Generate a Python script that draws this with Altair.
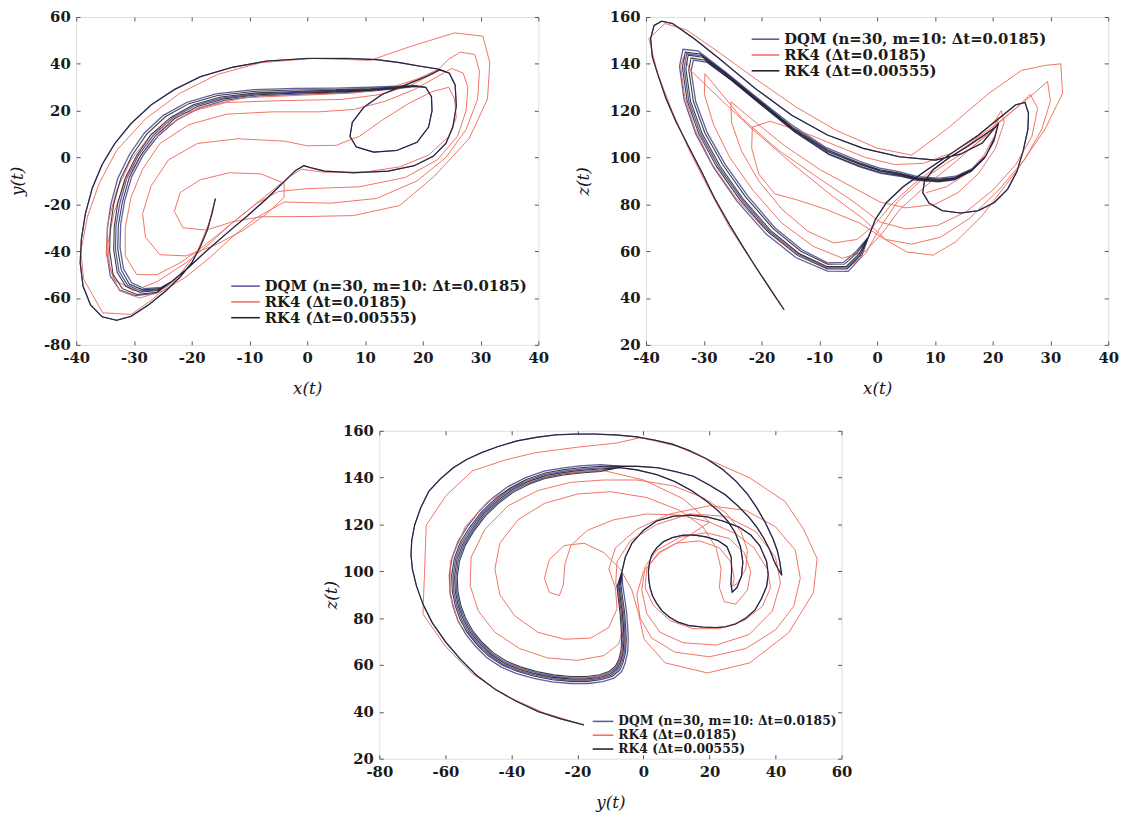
import altair as alt
import pandas as pd

SERIES = ["DQM (n=30, m=10: \u0394t=0.0185)", "RK4 (\u0394t=0.0185)", "RK4 (\u0394t=0.00555)"]
COLORS = ["#55559f", "#ef6b5c", "#1b1b26"]

# ---------------- Panel 1 : x(t) vs y(t) ----------------
P1_TRANS = [(-15.9,-17.6),(-16.5,-24),(-17.3,-31),(-18.5,-38),(-20,-45),(-22,-51),(-24.5,-57),(-27.5,-63),(-30.5,-67.8),(-33,-69.5),(-35.5,-68),(-37.5,-63),(-38.8,-55),(-39.3,-45),(-39.1,-35),(-38.4,-24),(-37.2,-13),(-35.5,-3),(-33.3,6),(-30.5,14.5),(-27,22.5),(-23,29),(-18.5,34.5),(-13,38.5),(-7,41.2),(0,42.3),(7,42.3),(12,41.8),(16,40.5),(19.5,39),(22.5,37.8)]
P1_OUT = [(24.6,36),(25.6,31),(25.8,22),(25.2,13),(24,6),(21.8,0.5),(18.5,-3.5),(14,-5.8),(8,-6.5),(3,-5.8),(0.5,-4.3),(-0.6,-3.5)]
P1_DIAG = [(-2,-5.5),(-4.3,-11),(-7,-17.5),(-10.4,-25),(-14,-32.5),(-17.5,-40),(-20.8,-47.5),(-23.5,-53)]
P1_ELL = [(20.5,30),(21.5,26),(21.6,20),(21,13),(19,6.5),(15.5,3),(11.5,2.3),(8.5,4.5),(7.4,9),(7.8,15),(9.8,21.5),(13,27),(17,31),(20.5,34.5),(23,37.5)]
P1_BAND_K0 = [(-26,-57.5),(-29.5,-58.5),(-32,-56),(-33.6,-50),(-34.2,-40),(-34.1,-30),(-33.5,-20),(-32.3,-9),(-30.3,1),(-27.8,10),(-24.5,17.5),(-20.5,23),(-15.5,26.5),(-9,28.3),(-2,28.8),(5,29),(11,29.5),(15.5,30.2),(18.5,30.6)]
P1_BAND_K1 = [(-25.5,-56),(-28.5,-56.5),(-30.8,-54),(-32.2,-48),(-32.8,-39),(-32.7,-29),(-32,-19),(-30.8,-8.5),(-28.8,1),(-26.2,9.5),(-23,16.5),(-19,21.8),(-14.5,25),(-8.5,26.8),(-2,27.5),(5,27.9),(11,28.6),(15.5,29.6),(18.5,30.4)]
P1_BAND_K2 = [(-25.8,-56.8),(-29,-57.5),(-31.4,-55),(-32.9,-49),(-33.5,-39.5),(-33.4,-29.5),(-32.8,-19.5),(-31.5,-8.7),(-29.5,1),(-27,9.8),(-23.7,17),(-19.7,22.5),(-15,25.8),(-8.8,27.6),(-2,28.2),(5,28.5),(11,29),(15.5,29.9),(18.5,30.5)]
P1_BAND_B0 = [(-26.2,-58),(-29.8,-59),(-32.5,-56.5),(-34.1,-50.5),(-34.7,-40.5),(-34.6,-30),(-34,-20),(-32.8,-9),(-30.8,1.2),(-28.2,10.5),(-24.9,18),(-20.8,23.6),(-15.8,27.2),(-9.2,29),(-2,29.5),(5,29.6),(11,30),(15.5,30.5),(18.5,30.8)]
P1_BAND_B1 = [(-25.6,-56.4),(-28.8,-57),(-31.1,-54.5),(-32.6,-48.5),(-33.2,-39.2),(-33.1,-29.2),(-32.4,-19.2),(-31.2,-8.6),(-29.2,1),(-26.6,9.6),(-23.4,16.8),(-19.4,22.2),(-14.8,25.4),(-8.6,27.2),(-2,27.8),(5,28.2),(11,28.8),(15.5,29.7),(18.5,30.4)]
P1_BAND_B2 = [(-25.3,-55.5),(-28.2,-56),(-30.4,-53.5),(-31.8,-47.5),(-32.4,-38.5),(-32.3,-28.5),(-31.6,-18.5),(-30.4,-8.3),(-28.4,1),(-25.8,9.2),(-22.6,16),(-18.6,21.2),(-14.2,24.5),(-8.3,26.3),(-2,27),(5,27.5),(11,28.3),(15.5,29.4),(18.5,30.3)]
P1_RED = [(-15.9,-17.6),(-17,-28),(-19,-40),(-22.5,-51.5),(-27,-61),(-30.5,-67),(-35.4,-66.3),(-38.7,-52),(-39.2,-40),(-38,-25),(-36,-11),(-33,3),(-28,16.5),(-22,27.5),(-15.5,35.5),(-8,40.5),(1,42.3),(10.9,41.5),
    (18,47.5),(25.5,53.2),(30.4,51.8),(31.6,40.5),(31.2,25),(28,8),(22,-8),(16,-20.5),(8,-24.8),(0,-25.2),(-8,-25.3),
    (-13,-27.5),(-17.5,-31),(-21.5,-30),(-23,-23),(-22,-15),(-18.5,-9.5),(-13.5,-6.5),(-8,-7),(-4,-11),(-4,-17),(-7,-24),(-11,-31),(-16,-37.5),(-21,-42),(-25.5,-41.5),(-28,-34),(-28.5,-24),(-27,-12),(-24,-1),(-19,6),(-12,8),(-4,7),(0,5),(5,5.2),(9,9),(13,16),(17.5,23),(21.5,28),
    (24.5,30),(25.5,25),(25.8,17),(24.5,9),(21,1),(16,-4),(10,-6.2),(3,-6.3),(-1,-5),
    (-3,-8),(-6,-14),(-10,-22),(-14,-30),(-18,-38),(-22,-45),(-26,-50),(-29.5,-50),(-31.5,-42),(-31.5,-30),(-30.5,-17),(-28.5,-5),(-25.5,6),(-20.5,14),(-14,18.5),(-6,19.5),(2,19.5),(8,20.5),(13.5,24),(18.5,29),(22.5,34.5),(25,38),(27,36),(27.8,30),(27.5,20),(26,9),(22.5,-1),(17,-8.5),(9,-12.5),(0,-13.3),(-5,-14.5),
    (-9,-20),(-13,-28),(-17,-37),(-21,-45),(-26,-53),(-30,-57),(-33.5,-52),(-34.8,-41),(-34.5,-28),(-33,-14),(-30.5,-1),(-27,10),(-22,18.5),(-14,23.5),(-4,24.3),(6,24.8),(13,27),(18,31),(22,36),(24.5,42),(26.5,45),(29,44),(29.8,37),(29.5,25),(27.5,12),(24,0),(19,-10),(12,-17.5),(4,-19.5),(-4,-19),
    (-9,-26),(-13,-34),(-17,-43),(-21,-51),(-25,-57),(-29,-60),(-32.5,-57),(-34.2,-47),(-34.5,-37),(-33.5,-24),(-31.5,-10),(-28.5,2),(-24.5,13),(-19,21),(-11,25.5),(-2,26.5),(8,27.5),(14,29.5),(19,33.5),(23,38)]

# ---------------- Panel 2 : x(t) vs z(t) ----------------
P2_TRANS = [(-16.1,35),(-18,42),(-20.5,51.3),(-23,61),(-25.5,71.2),(-28,82),(-30.4,94),(-32.7,105),(-34.8,115.3),(-36.5,125),(-37.9,135.1),(-38.9,143),(-39.2,150.8),(-38.6,156.4),(-37.3,158.2),(-35.4,157.2),(-31.7,150.8),(-27.3,142.2),(-21.1,129.5),(-14.8,118.1),(-8.6,109.6),(-2.4,103.9),(3.9,100.3),(10.1,98.9),(14.5,101.5),(18.2,106.2),(21,114.6)]
P2_RIGHT = [(-1.5,66),(-0.3,73.5),(1.6,80.7),(4.5,87.5),(8.5,94.5),(13,102),(17.5,109.5),(21.5,117.5),(24,122.5),(25.6,123.5),(26.2,119),(26.1,112),(25.3,103),(24.2,94),(22.6,86.5),(20.3,80.8),(17.5,77.3),(14.5,76.3),(11.3,77.3),(9,80.5),(7.9,85),(8.2,90),(9.8,95),(12.5,100),(15.5,104.5),(18.5,109.5),(20.5,113),(21,114.6)]
P2_BAND_K0 = [(20.3,108),(18.8,100.6),(16.5,95),(13.5,91.5),(10.8,90.7),(7,91.3),(3.8,93.4),(0.5,94.8),(-2.9,97.6),(-8.6,103.3),(-14.8,113.2),(-20.5,124.5),(-26.1,135.8),(-30.6,144.2),(-33.2,145),(-33.7,138.6),(-32.9,124.5),(-30.9,110.3),(-27.8,96.2),(-23.8,82.1),(-18.8,68),(-13.7,58.1),(-8.6,52.4),(-5.2,52.4),(-2.9,58.1)]
P2_BAND_K1 = [(20.2,107),(18.6,99.8),(16.3,94.2),(13.4,90.6),(10.7,89.8),(7,90.4),(3.9,92.3),(0.6,93.6),(-2.8,96.2),(-8.4,101.6),(-14.4,111.3),(-20,122.4),(-25.4,133.4),(-29.8,141.5),(-32.2,142.5),(-32.6,137.4),(-31.8,124),(-29.8,110.5),(-26.7,96.9),(-22.8,83.3),(-18,69.6),(-13.2,60),(-8.6,54.4),(-5.6,54.5),(-3.4,59.5)]
P2_BAND_K2 = [(20.25,107.5),(18.7,100.2),(16.4,94.6),(13.45,91),(10.75,90.2),(7,90.8),(3.85,92.8),(0.55,94.2),(-2.85,96.9),(-8.5,102.4),(-14.6,112.2),(-20.2,123.4),(-25.7,134.6),(-30.2,142.8),(-32.7,143.7),(-33.1,138),(-32.3,124.2),(-30.3,110.4),(-27.2,96.5),(-23.3,82.7),(-18.4,68.8),(-13.5,59),(-8.6,53.4),(-5.4,53.4),(-3.15,58.8)]
P2_BAND_B0 = [(20.35,108.5),(18.9,101),(16.6,95.4),(13.6,92),(10.85,91.2),(7,91.8),(3.75,94),(0.45,95.5),(-3,98.4),(-8.8,104.2),(-15,114.3),(-20.8,125.6),(-26.5,137),(-31,145.5),(-33.6,146.2),(-34.2,139),(-33.4,124.6),(-31.4,110.2),(-28.3,95.8),(-24.3,81.5),(-19.2,67.3),(-14,57.2),(-8.6,51.5),(-5,51.4),(-2.7,57.6)]
P2_BAND_B1 = [(20.28,107.7),(18.75,100.4),(16.45,94.8),(13.5,91.2),(10.78,90.4),(7,91),(3.82,93),(0.52,94.4),(-2.88,97.2),(-8.55,102.8),(-14.7,112.6),(-20.35,123.9),(-25.9,135.2),(-30.4,143.5),(-32.95,144.3),(-33.4,138.3),(-32.6,124.3),(-30.6,110.3),(-27.5,96.3),(-23.5,82.4),(-18.6,68.4),(-13.6,58.6),(-8.6,52.9),(-5.3,52.9),(-3,58.4)]
P2_BAND_B2 = [(20.15,106.8),(18.55,99.6),(16.25,94),(13.35,90.4),(10.65,89.6),(7,90.2),(3.95,92),(0.65,93.2),(-2.75,95.8),(-8.3,101.2),(-14.2,110.8),(-19.7,121.8),(-25,132.6),(-29.4,140.6),(-31.8,141.6),(-32.2,137),(-31.4,123.9),(-29.4,110.6),(-26.3,97.1),(-22.4,83.6),(-17.7,70),(-13,60.6),(-8.6,55),(-5.8,55.2),(-3.6,60)]
P2_RED = [(-16.1,35),(-19,46),(-22,57),(-25.5,70),(-29,86),(-32.5,103),(-35.5,120),(-38,136),(-39.5,150.8),(-36.7,157.2),(-33,154.5),(-28,146),(-21,133.5),(-14,121.5),(-7,111.5),(0,104),(6,101),
    (12,112),(19.3,127.3),(25,137.2),(29,139.3),(31.8,140),(32.1,127.3),(29,111.8),(23.9,93.5),(18.2,75.2),(13.6,64),(9.7,58.3),(5.1,59.7),(1.1,65.4),(-3,72),(-9,78),(-14,82),(-17.7,84.5),
    (-20.5,93),(-21.7,104),(-21.6,113),(-18.5,115.5),(-13,111),(-7,105),(-2,100),(3,97),(8,97.5),(13,102),(17.5,109),(20.5,116),(21.5,120),(22,115),(20.5,104),(17.5,93),(14,85),(10,80),(5,78.5),(0.5,81),
    (-4,87),(-10,95),(-16,105),(-21.5,116),(-25.3,123.8),(-25.2,115),(-23.5,103),(-20.5,90),(-16.5,78),(-12,68.5),(-7.5,63.5),(-3.5,65),(-0.5,71),(2.5,80),(6,88),(10.5,96.5),(15.5,105),(20.5,114),(24.5,122),(26.5,127),(27.8,121),(26.8,109),(24,97),(20,86),(15.5,77),(10.5,71),(5,69.5),(0.5,72.5),
    (-4,81),(-10,91),(-17,103),(-23.5,117),(-29.8,135.8),(-29.9,127),(-28.3,114),(-25.5,100),(-21.5,86),(-16.5,72),(-11,62),(-6,57),(-2,60),(1,68),(4,78),(8.5,88),(13.5,98),(19,110),(23.5,120),(27,127),(29.5,132.5),(30,124),(28.5,112),(25.5,99),(21,86),(16,74),(11,66),(6,63),(1.5,65),
    (-2.5,74),(-8,84),(-15,98),(-22,113),(-28,127),(-32.2,137),(-33.5,143),(-34,139),(-33.3,126),(-31.5,112),(-28.5,97),(-24.5,83),(-19.5,69.5),(-14,59.5),(-9,53.5),(-5,53),(-2,59),(0.5,70),(3.5,81),(7.5,90),(12,97.5),(16.5,104.5),(19.8,111),(21,117),(20.5,110),(18.5,101),(15.5,93),(12,87.5),(8.5,85)]

# ---------------- Panel 3 : y(t) vs z(t) ----------------
P3_TRANS = [(-18,34.4),(-25,37),(-31.9,40.1),(-38.5,44.5),(-44.7,49.4),(-50.5,55.5),(-55.4,62.4),(-60,70),(-64,78.1),(-66.8,86),(-68.8,94),(-70,101),(-70.4,106.9),(-70.2,113),(-69.3,119.8),(-67.5,127),(-65,134.2),(-61.5,139.5),(-57.6,144.2),(-53.5,147.8),(-49,150.7),(-44,153.3),(-38.3,155.7),(-32.5,157.2),(-26.5,158.3),(-20.5,158.6),(-14.8,158.6),(-8,158.2),(-2,157.4),(3.5,156),(8.7,154.3),(14,151.5),(19.4,147.8),(24,143.5),(28,138.5),(31.5,133),(34.4,127),(37,120.5),(39.2,114),(40.5,109),(41.3,104),(41.9,98.3),(40.8,101),(39.7,104),(38.3,109),(36.5,114),(34.5,118.5),(32.2,122.7),(28.7,127.8),(24.8,132.7),(20,136.8),(15.1,140.6),(10,142.5),(4.5,144.2),(-1.5,144.8),(-7.3,144.9)]
P3_RIGHT = [(-6.5,100),(-5.5,106),(-3.5,112),(0,117.5),(4,121.5),(9,123.5),(14,124),(19,123.3),(24,121.5),(28.9,118.9),(32.5,115.5),(35.2,111),(37.3,104.2),(37.8,98.6),(37.3,93.5),(35.8,88.5),(33.8,83.5),(31,80),(27.9,77.5),(24.8,76.3),(21.9,76),(18,76.2),(13.9,76.8),(10.5,78.3),(8,80.3),(5.7,83),(4,86.3),(2.7,89.7),(2,93),(1.6,96.5),(1.5,100),(1.8,103.5),(2.5,107),(4,110),(6,112.6),(8.8,114.4),(11.9,115.4),(15.4,115.5),(18.9,114.7),(22.5,113.2),(25.3,110.5),(26.6,106),(26.7,100),(26.5,94.5),(26.9,91.1),(28.3,93),(29.7,98),(30.1,104),(29.4,110.5),(27.8,116.5),(25.5,121.5),(22.5,126),(18.8,130.3),(14.5,134.5),(9.5,138.3),(4,141.3),(-2,143.3),(-7.3,144.3)]
P3_BAND_K0 = [(-13,144.8),(-19.1,144.2),(-24.5,143.3),(-29.8,142),(-35.3,139.3),(-40.4,135.6),(-45,130.8),(-49,125.5),(-52.5,119),(-55.4,112.6),(-57.3,105.5),(-58.1,98.3),(-57.9,91.5),(-57,85.3),(-55.5,79.3),(-53.3,73.8),(-50.3,68.5),(-46.9,63.8),(-42.8,60),(-38.3,57.3),(-33,55.2),(-27.6,53.7),(-22,53),(-16.9,53),(-12.6,53.8),(-9.4,55.2),(-7.2,57.8),(-6.2,60.9),(-5.4,65.5),(-5.2,71),(-5.4,76.5),(-5.7,82.5),(-6.3,88.5),(-6.8,94)]
P3_BAND_K1 = [(-13,142.6),(-19,142),(-24.3,141.1),(-29.4,139.8),(-34.7,137.2),(-39.6,133.6),(-44,128.9),(-47.8,123.8),(-51.2,117.5),(-53.9,111.3),(-55.7,104.5),(-56.4,97.7),(-56.2,91.3),(-55.3,85.4),(-53.8,79.8),(-51.7,74.6),(-48.8,69.6),(-45.5,65.3),(-41.6,61.7),(-37.3,59.2),(-32.3,57.2),(-27.2,55.8),(-22,55.1),(-17.2,55.1),(-13.3,55.8),(-10.5,57.2),(-8.5,59.5),(-7.5,62.2),(-6.8,66.3),(-6.6,71.2),(-6.8,76.5),(-7.1,82.3),(-7.6,88),(-8,93.5)]
P3_BAND_K2 = [(-13,143.7),(-19,143.1),(-24.4,142.2),(-29.6,140.9),(-35,138.2),(-40,134.6),(-44.5,129.8),(-48.4,124.6),(-51.8,118.2),(-54.6,112),(-56.5,105),(-57.2,98),(-57,91.4),(-56.1,85.3),(-54.6,79.5),(-52.5,74.2),(-49.5,69),(-46.2,64.5),(-42.2,60.8),(-37.8,58.2),(-32.6,56.2),(-27.4,54.7),(-22,54),(-17,54),(-13,54.8),(-10,56.2),(-7.9,58.6),(-6.9,61.5),(-6.1,65.9),(-5.9,71.1),(-6.1,76.5),(-6.4,82.4),(-7,88.2),(-7.4,93.7)]
P3_BAND_B0 = [(-13,145.6),(-19.2,145),(-24.7,144.1),(-30.1,142.8),(-35.7,140),(-40.9,136.3),(-45.6,131.4),(-49.6,126),(-53.2,119.4),(-56.1,112.9),(-58,105.7),(-58.8,98.4),(-58.6,91.5),(-57.7,85.1),(-56.2,79),(-53.9,73.3),(-50.9,68),(-47.4,63.1),(-43.2,59.2),(-38.6,56.4),(-33.2,54.3),(-27.7,52.8),(-22,52.1),(-16.8,52.1),(-12.3,52.9),(-8.9,54.4),(-6.6,57.2),(-5.6,60.5),(-4.8,65.3),(-4.6,71),(-4.8,76.5),(-5.1,82.5),(-5.7,88.6),(-6.3,94.2)]
P3_BAND_B1 = [(-13,144.2),(-19.05,143.6),(-24.45,142.7),(-29.7,141.4),(-35.15,138.7),(-40.2,135.1),(-44.75,130.3),(-48.7,125),(-52.15,118.6),(-55,112.3),(-56.9,105.2),(-57.65,98.1),(-57.45,91.4),(-56.55,85.3),(-55.05,79.4),(-52.9,74),(-49.9,68.7),(-46.55,64.1),(-42.5,60.4),(-38.05,57.7),(-32.8,55.7),(-27.5,54.2),(-22,53.5),(-16.95,53.5),(-12.8,54.3),(-9.7,55.7),(-7.55,58.2),(-6.55,61.2),(-5.75,65.7),(-5.55,71),(-5.75,76.5),(-6.05,82.4),(-6.65,88.3),(-7.1,93.8)]
P3_BAND_B2 = [(-13,143.1),(-19,142.5),(-24.35,141.6),(-29.5,140.3),(-34.85,137.7),(-39.8,134.1),(-44.25,129.3),(-48.1,124.2),(-51.5,117.8),(-54.25,111.6),(-56.1,104.7),(-56.8,97.8),(-56.6,91.3),(-55.7,85.3),(-54.2,79.6),(-52.1,74.4),(-49.15,69.3),(-45.85,64.9),(-41.9,61.2),(-37.55,58.7),(-32.45,56.7),(-27.3,55.2),(-22,54.5),(-17.1,54.5),(-13.15,55.3),(-10.25,56.7),(-8.2,59),(-7.2,61.8),(-6.45,66.1),(-6.25,71.1),(-6.45,76.5),(-6.75,82.3),(-7.3,88.1),(-7.7,93.6)]
P3_RED = [(-18,34.4),(-30,39.5),(-42,47),(-52,56.5),(-60,68),(-66.8,81.8),(-66.3,100),(-65.8,119.7),(-59.8,132.3),(-51.8,142.9),(-42,147.5),(-32.9,150.6),(-20,153),(-8,154.8),(-0.9,157.1),
    (10,153.5),(20,147.5),(32.2,139.9),(42.9,129.8),(48.5,118),(52.6,105.4),(51.5,91),(44,73.8),(32.2,60.9),(19.4,56.6),(6.6,60.9),(0.2,71),
    (-1.5,82),(-3.5,92),(-7,101),(-12,108),(-18,112),(-24,111),(-28.5,105),(-30,97),(-28.5,91),(-25.5,89.6),(-24.3,94),(-23.8,103),(-22,111),(-17,117.5),(-9,122),(1,124.5),(11,124),(20,121),(28,116),(33.5,110),(37.5,101),(38.5,93),(36,85),(30.5,79),(23,75.5),(15,75.5),(8,79),(3,85.5),(0.5,93),(1,101),(4.5,108),(10,112),(17,113),(23,110),(26.5,104),(27.5,97),(27,93.5),(28.5,95),(31,101),(31.5,109),(29.5,117),(25,125),(18,131.5),(9,136.5),(-2,139),(-12,139),
    (-22,138),(-32,134.5),(-41,128),(-48,118),(-52.2,106),(-52.5,94),(-50,83),(-45,74),(-37.5,67),(-29,63),(-20,62),(-12,64),(-7.5,69),(-6,77),(-6.5,86),(-8.4,95),(-8,104),(-4,113),(4,120),(14,124.5),(25,123.5),(34,117),(40,106),(41.5,95),(39,83),(32,73),(22,68.5),(12,69.5),(5,74),(1,82),(-0.5,92),(0.5,102),(4,109),(11,114.5),(19,116.5),(26,114),(30.5,108),(32.5,100),(31.5,92),(28,86),(24.5,87),(23,93),(23.5,101),(22,110),(18,119),(11,126),(1,131.5),(-10,134),(-20,133),(-30,129),
    (-38,122),(-43.5,112),(-45,101),(-43.5,90),(-39,81),(-32,74),(-24,71),(-16,71.5),(-10.5,76),(-8,84),(-8.5,93),(-10.5,101),(-8.5,110),(-2,118),(8,124.5),(20,128),(31,126),(40,119),(46,109),(47.5,97),(45.5,85),(40,75),(31,67),(20,63.5),(9.5,65.5),(2.5,71.5),(-1,80),(-2,90),(0,100),(5,108),(13,114.5),
    (20,121),(12,131),(0,139),(-12,143),(-25,142),(-37,138),(-47,130),(-54,119),(-58.5,104),(-58.6,90),(-56,78),(-50,68),(-41,60),(-30,55),(-19,53.5),(-11,56),(-7,62),(-5.5,72)]

# tick values
X12_TICKS = [-40, -30, -20, -10, 0, 10, 20, 30, 40]
Y1_TICKS = [-80, -60, -40, -20, 0, 20, 40, 60]
Z_TICKS = [20, 40, 60, 80, 100, 120, 140, 160]
Y3_TICKS = [-80, -60, -40, -20, 0, 20, 40, 60]


def chain(*segs):
    out = []
    for s in segs:
        out.extend(s)
    return out


def frame(blue, red, black):
    rows = []
    for name, pts in ((SERIES[0], blue), (SERIES[1], red), (SERIES[2], black)):
        for k, (a, b) in enumerate(pts):
            rows.append({"a": a, "b": b, "i": k, "s": name})
    return pd.DataFrame(rows)


df1 = frame(
    chain(P1_TRANS, P1_OUT, P1_DIAG, P1_BAND_B0, P1_ELL, P1_OUT, P1_DIAG, P1_BAND_B1, P1_ELL, P1_OUT, P1_DIAG, P1_BAND_B2, P1_ELL, P1_OUT),
    P1_RED,
    chain(P1_TRANS, P1_OUT, P1_DIAG, P1_BAND_K0, P1_ELL, P1_OUT, P1_DIAG, P1_BAND_K1, P1_ELL, P1_OUT, P1_DIAG, P1_BAND_K2, P1_ELL, P1_OUT),
)
df2 = frame(
    chain(P2_TRANS, P2_BAND_B0, P2_RIGHT, P2_BAND_B1, P2_RIGHT, P2_BAND_B2, P2_RIGHT),
    P2_RED,
    chain(P2_TRANS, P2_BAND_K0, P2_RIGHT, P2_BAND_K1, P2_RIGHT, P2_BAND_K2, P2_RIGHT),
)
df3 = frame(
    chain(P3_TRANS, P3_BAND_B0, P3_RIGHT, P3_BAND_B1, P3_RIGHT, P3_BAND_B2, P3_RIGHT),
    P3_RED,
    chain(P3_TRANS, P3_BAND_K0, P3_RIGHT, P3_BAND_K1, P3_RIGHT, P3_BAND_K2, P3_RIGHT),
)

FONT = "DejaVu Serif"
W, H = 468, 332


def main_axis(values, title, orient, tp):
    return alt.Axis(values=values, title=title, orient=orient, grid=False, domain=False,
                    ticks=True, tickSize=4, offset=-4, tickColor="#555", tickWidth=1,
                    labelFont=FONT, labelFontWeight="bold", labelFontSize=15, labelColor="#1a1a1a",
                    labelPadding=6, labelFlush=False, labelOverlap=False,
                    labelExpr="toString(datum.value)",
                    titleFont=FONT, titleFontStyle="italic", titleFontWeight="normal",
                    titleFontSize=17, titleColor="#1a1a1a", titlePadding=tp)


def mirror_axis(values, orient):
    return alt.Axis(values=values, orient=orient, grid=False, domain=False, labels=False,
                    ticks=True, tickSize=4, offset=-4, tickColor="#555", title="")


def panel(df, xdom, ydom, xticks, yticks, xtitle, ytitle, lx, ly, lfs, lsym, rowpad, ytp):
    xs = alt.Scale(domain=xdom, nice=False, zero=False)
    ys = alt.Scale(domain=ydom, nice=False, zero=False)
    legend = alt.Legend(title=None, orient="none", legendX=lx, legendY=ly,
                        symbolType="stroke", symbolSize=lsym * lsym, symbolStrokeWidth=1.6,
                        labelFont=FONT, labelFontWeight="bold", labelFontSize=lfs,
                        labelColor="#1a1a1a", rowPadding=rowpad, labelOffset=4, padding=0,
                        clipHeight=lfs, labelLimit=400)
    color = alt.Color("s:N", scale=alt.Scale(domain=SERIES, range=COLORS), legend=legend)
    layers = []
    for name, sw, op in ((SERIES[0], 1.3, 0.95), (SERIES[1], 1.0, 0.95), (SERIES[2], 1.1, 0.85)):
        layers.append(
            alt.Chart(df).transform_filter(alt.datum.s == name)
            .mark_line(strokeWidth=sw, opacity=op, clip=True)
            .encode(x=alt.X("a:Q", scale=xs, axis=main_axis(xticks, xtitle, "bottom", 15)),
                    y=alt.Y("b:Q", scale=ys, axis=main_axis(yticks, ytitle, "left", ytp)),
                    color=color, order=alt.Order("i:Q"))
        )
    inner = alt.layer(*layers)
    mirror = alt.Chart(df).mark_point(opacity=0).encode(
        x=alt.X("a:Q", scale=xs, axis=mirror_axis(xticks, "top")),
        y=alt.Y("b:Q", scale=ys, axis=mirror_axis(yticks, "right")))
    return alt.layer(inner, mirror).resolve_scale(x="independent", y="independent").properties(width=W, height=H)


p1 = panel(df1, [-40, 40], [-80, 60], X12_TICKS, Y1_TICKS, "x(t)", "y(t)", 156, 265, 15, 29, 0, 17)
p2 = panel(df2, [-40, 40], [20, 160], X12_TICKS, Z_TICKS, "x(t)", "z(t)", 106, 15, 15, 28, 0, 17)
p3 = panel(df3, [-80, 60], [20, 160], Y3_TICKS, Z_TICKS, "y(t)", "z(t)", 215, 288, 12.5, 21, 1, 2)

spacer = alt.Chart(pd.DataFrame({"a": [0]})).mark_point(opacity=0).encode(
    x=alt.X("a:Q", axis=None), y=alt.Y("a:Q", axis=None)
).properties(width=249, height=10, view=alt.ViewBackground(strokeOpacity=0))

top = alt.hconcat(p1, p2, spacing=25).resolve_scale(color="independent")
bottom = alt.hconcat(spacer, p3, spacing=0).resolve_scale(color="independent")
chart = alt.vconcat(top, bottom, spacing=26).resolve_scale(color="independent").properties(
    padding={"left": 0, "top": -4, "right": 5, "bottom": 5}
).configure_view(stroke="#9a9a9a", strokeWidth=1).configure(background="white")

chart.save("out.html", embed_options={"renderer": "svg", "actions": False})
